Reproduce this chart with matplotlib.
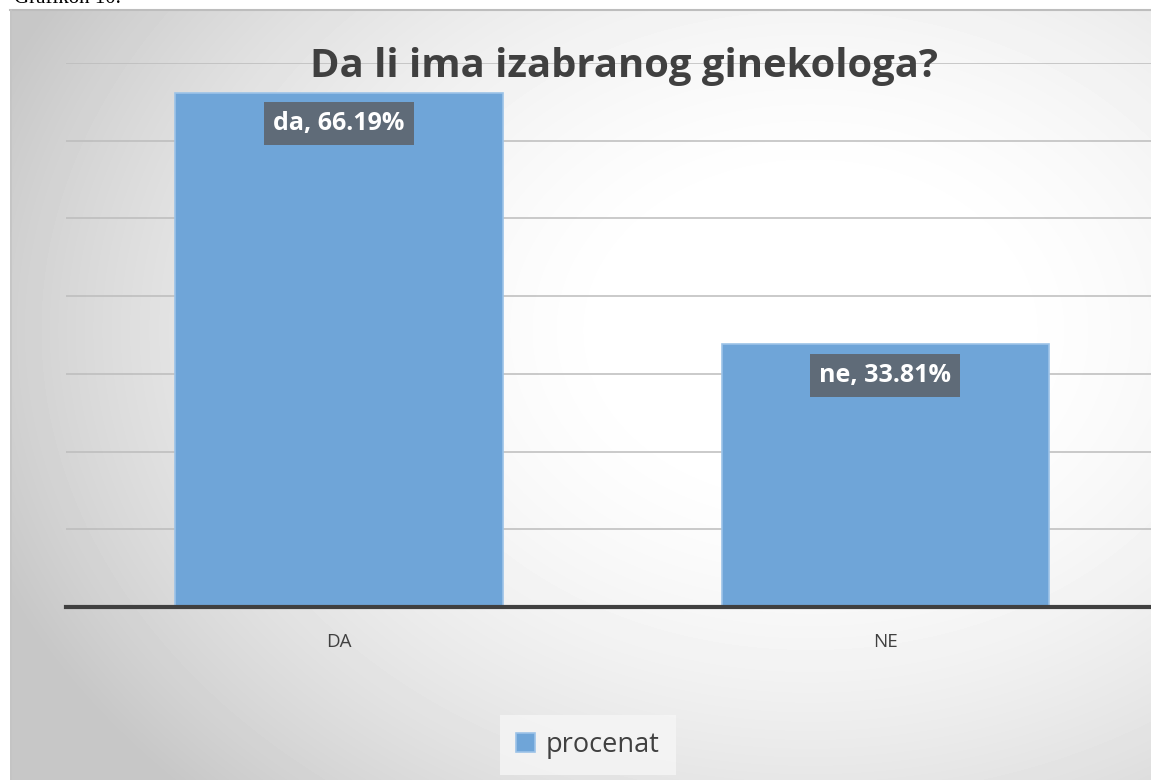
import matplotlib.pyplot as plt
import numpy as np

categories = ['DA', 'NE']
values = [66.19, 33.81]
labels = ['da, 66.19%', 'ne, 33.81%']
series_name = 'procenat'
title = 'Da li ima izabranog ginekologa?'

W, H = 1151, 780
fig = plt.figure(figsize=(W / 100, H / 100), dpi=100)
fig.patch.set_facecolor('white')

# background of the chart area: radial grey gradient
bg = fig.add_axes([10 / W, 0, 1 - 10 / W, 1 - 10 / H], zorder=0)
yy, xx = np.mgrid[0:770, 0:1141]
r = np.sqrt(((xx - 800) / 850) ** 2 + ((yy - 320) / 640) ** 2)
img = np.clip(258 - 56 * r ** 2, 199, 255) / 255
bg.imshow(img, cmap='gray', vmin=0, vmax=1, aspect='auto', interpolation='bilinear')
bg.set_axis_off()
# frame line
fig.add_artist(plt.Line2D([10 / W, 1], [1 - 9.5 / H] * 2, color='#bdbdbd', lw=1.5))
fig.add_artist(plt.Line2D([10.5 / W] * 2, [0, 1 - 10 / H], color='#c4c4c4', lw=1.2))

fig.text(14 / W, 1 - 3 / H, 'Grafikon 10.', family='Liberation Serif', fontsize=15,
         va='baseline', ha='left', color='black')

ax = fig.add_axes([66 / W, (H - 607) / H, (1158.5 - 66) / W, (607 - 63) / H], zorder=1)
ax.patch.set_alpha(0)
x = np.arange(len(categories))
ax.bar(x, values, width=0.6, color='#6fa5d8', edgecolor='#9cc3e8', linewidth=1.2,
       zorder=3, label=series_name)
ax.set_xlim(-0.5, 1.5)
ax.set_ylim(0, 70)
ax.set_yticks(np.arange(10, 71, 10))
ax.yaxis.grid(True, color='#bcbcbc', lw=1.1, zorder=0)
ax.tick_params(axis='y', left=False, labelleft=False)
ax.tick_params(axis='x', bottom=False, pad=15)
ax.set_xticks(x)
ax.set_xticklabels(categories, family='Open Sans', fontsize=13.5, color='#404040')
for s in ['top', 'right', 'left']:
    ax.spines[s].set_visible(False)
ax.spines['bottom'].set_color('#404040')
ax.spines['bottom'].set_linewidth(3)
ax.spines['bottom'].set_zorder(4)

for xi, v, lab in zip(x, values, labels):
    ax.annotate(lab, (xi, v), xytext=(0, -22.5), textcoords='offset points',
                ha='center', va='center', color='white', fontsize=18,
                fontweight='bold', family='Open Sans', zorder=5,
                bbox=dict(boxstyle='square,pad=0.36', fc='#5f6b78', ec='none'))

fig.text(624 / W, 1 - 77 / H, title, ha='center', va='baseline', fontsize=28.8,
         fontweight='bold', family='Open Sans', color='#404040', zorder=3)

leg = fig.legend(loc='center', bbox_to_anchor=(588 / W, 1 - 745 / H), frameon=True,
                 prop={'family': 'Open Sans', 'size': 19.5}, handlelength=0.7,
                 handleheight=0.7, handletextpad=0.4, fancybox=False,
                 borderpad=0.6)
leg.get_frame().set_facecolor('#f6f6f6')
leg.get_frame().set_edgecolor('none')
for t in leg.get_texts():
    t.set_color('#404040')

fig.savefig('out.png', dpi=100)
